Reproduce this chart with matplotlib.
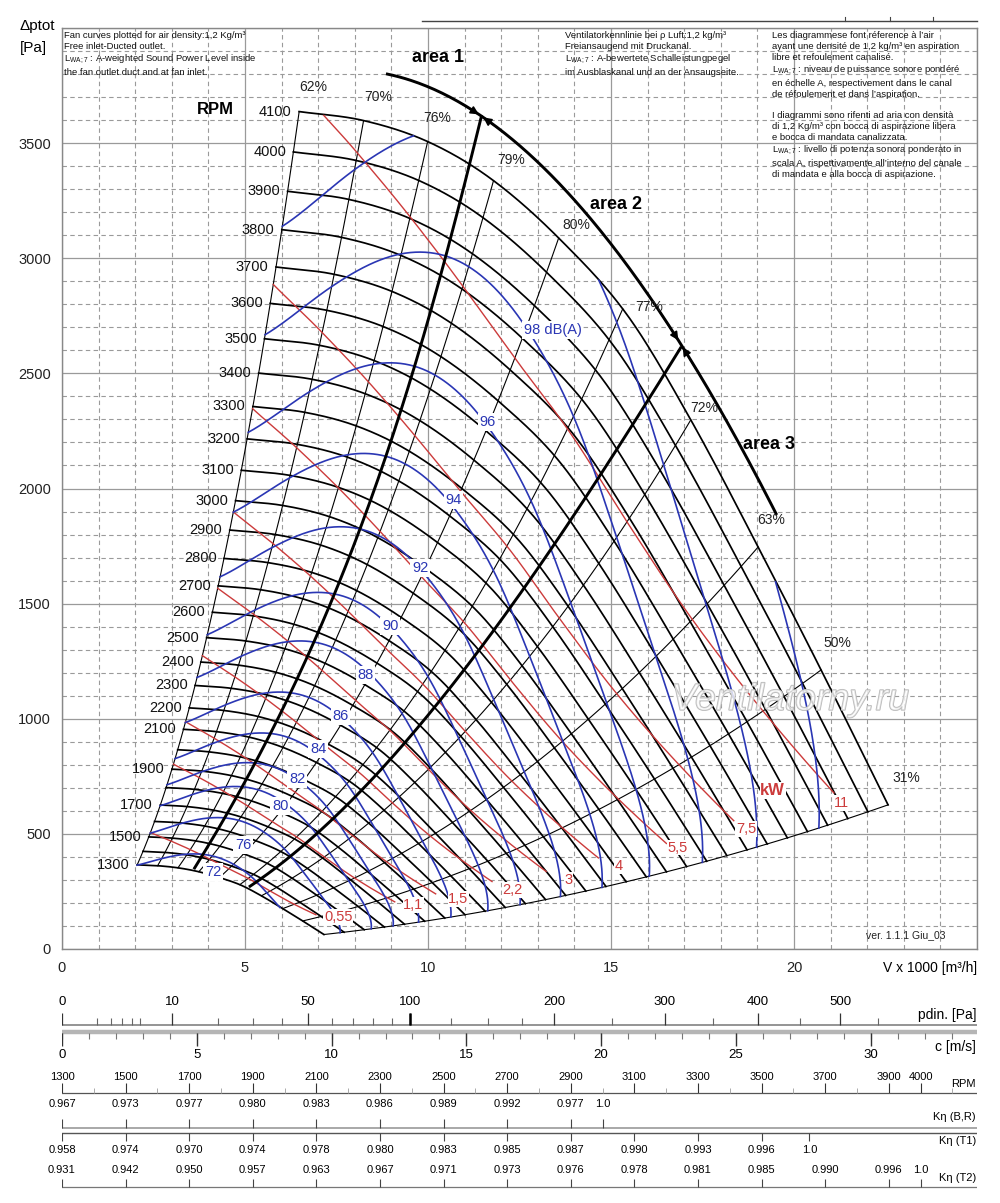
import numpy as np
import matplotlib
matplotlib.use('Agg')
import matplotlib.pyplot as plt
import matplotlib.patheffects as pe
import matplotlib.transforms as mtransforms
from matplotlib.lines import Line2D

plt.rcParams['font.family'] = ['Liberation Sans', 'DejaVu Sans']
plt.rcParams['mathtext.fontset'] = 'custom'
plt.rcParams['mathtext.rm'] = 'Liberation Sans'

NARROW = ['Liberation Sans Narrow', 'Liberation Sans', 'DejaVu Sans']

# ── fan curve at top speed (4100 rpm) ───────────────────────────────────────
base_V = [6.48, 8.24, 10.07, 11.25, 13.62, 15.54, 17.18, 19.02, 20.74, 22.57]
base_p = [3637, 3598, 3501, 3397, 3080, 2732, 2298, 1746, 1212, 626]

rpm_curves = [1300, 1400, 1500, 1600, 1700, 1800, 1900, 2000, 2100, 2200,
              2300, 2400, 2500, 2600, 2700, 2800, 2900, 3000, 3100, 3200,
              3300, 3400, 3500, 3600, 3700, 3800, 3900, 4000, 4100]
rpm_labelled = [1300, 1500, 1700, 1900, 2100, 2200, 2300, 2400, 2500, 2600,
                2700, 2800, 2900, 3000, 3100, 3200, 3300, 3400, 3500, 3600,
                3700, 3800, 3900, 4000, 4100]

# ── efficiency lines: where each one meets the 4100 rpm curve ───────────────
eff_labels = ['62%', '70%', '76%', '79%', '80%', '77%', '72%', '63%', '50%', '31%']
eff_V_top = [6.48, 8.24, 9.99, 11.79, 13.57, 15.32, 17.18, 19.02, 20.74, 22.57]
eff_label_x = [6.87, 8.65, 10.26, 12.26, 14.04, 16.03, 17.54, 19.37, 21.18, 23.06]
eff_label_y = [3745, 3701, 3610, 3427, 3145, 2789, 2350, 1864, 1329, 743]

# ── sound power lines (blue) ────────────────────────────────────────────────
# shape of the 98 dB(A) line: speed ratio n/4100 along the top-speed curve
sound_ref_V = [6.48, 7.45, 9.0, 10.6, 11.8, 12.7, 13.4, 14.0, 15.0, 17.5, 19.8, 22.57]
sound_ref_s = [0.857, 0.874, 0.912, 0.935, 0.941, 0.941, 0.937, 0.930, 0.915, 0.878, 0.840, 0.775]
sound_levels = [72, 76, 80, 82, 84, 86, 88, 90, 92, 94, 96, 98, 100, 102, 104]
# flow where each line meets the 62 % boundary (102/104 extrapolated from their ends)
sound_left_V = [2.05, 2.41, 2.68, 2.87, 3.09, 3.37, 3.69, 3.97, 4.32, 4.68, 5.09, 5.55, 6.02, 6.56, 7.17]
sound_labels = ['72', '76', '80', '82', '84', '86', '88', '90', '92', '94', '96', '98 dB(A)']
sound_label_x = [4.13, 4.95, 5.96, 6.43, 7.00, 7.61, 8.29, 8.97, 9.79, 10.70, 11.63, 13.41]
sound_label_y = [334, 452, 621, 738, 869, 1012, 1190, 1403, 1655, 1950, 2289, 2689]

# ── shaft power lines (red) ─────────────────────────────────────────────────
power_ref_V = [6.48, 7.14, 10.07, 13.55, 14.4, 16.5, 18.8, 22.1]
power_ref_kW = [10.64, 11.0, 12.7, 14.55, 14.9, 15.1, 14.85, 12.9]
kw_values = [0.55, 1.1, 1.5, 2.2, 3, 4, 5.5, 7.5, 11]
kw_labels = ['0,55', '1,1', '1,5', '2,2', '3', '4', '5,5', '7,5', '11']
kw_end_V_top = [20.5, 21.1, 21.3, 21.5, 21.7, 21.8, 22.0, 22.05, 22.19]
kw_label_x = [7.55, 9.60, 10.83, 12.31, 13.84, 15.21, 16.82, 18.69, 21.29]
kw_label_y = [139, 191, 217, 256, 300, 360, 440, 521, 634]

# ── area borders (heavy lines) ──────────────────────────────────────────────
arc_x = [8.89, 11.35, 14.17, 15.81, 16.83, 17.92, 19.51]
arc_y = [3801, 3623, 3241, 2876, 2625, 2385, 1885]
a12_x = [3.58, 4.24, 4.95, 5.61, 6.16, 6.70, 7.41, 7.88, 9.30, 10.34, 10.94, 11.45]
a12_y = [352, 504, 704, 908, 1082, 1299, 1490, 1746, 2350, 2919, 3284, 3615]
a23_x = [5.14, 5.96, 6.87, 7.80, 8.78, 9.79, 10.70, 11.52, 12.50, 13.60, 14.80, 16.00, 16.90]
a23_y = [256, 373, 504, 647, 791, 965, 1112, 1320, 1560, 1807, 2081, 2385, 2602]

# ── bottom scales ───────────────────────────────────────────────────────────
pdin_major = [0, 10, 50, 100, 200, 300, 400, 500]
pdin_minor = [1, 2, 3, 4, 5, 20, 30, 40, 60, 70, 80, 90, 125, 150, 175, 250, 350, 450, 550]
c_major = [0, 5, 10, 15, 20, 25, 30]
rpm_scale = [1300, 1500, 1700, 1900, 2100, 2300, 2500, 2700, 2900, 3100,
             3300, 3500, 3700, 3900, 4000]
kbr_rpm = [1300, 1500, 1700, 1900, 2100, 2300, 2500, 2700, 2900, 3000]
kbr_val = ['0.967', '0.973', '0.977', '0.980', '0.983', '0.986', '0.989', '0.992', '0.977', '1.0']
kt1_rpm = [1300, 1500, 1700, 1900, 2100, 2300, 2500, 2700, 2900, 3100, 3300, 3500, 3650]
kt1_val = ['0.958', '0.974', '0.970', '0.974', '0.978', '0.980', '0.983', '0.985',
           '0.987', '0.990', '0.993', '0.996', '1.0']
kt2_rpm = [1300, 1500, 1700, 1900, 2100, 2300, 2500, 2700, 2900, 3100, 3300, 3500,
           3700, 3900, 4000]
kt2_val = ['0.931', '0.942', '0.950', '0.957', '0.963', '0.967', '0.971', '0.973',
           '0.976', '0.978', '0.981', '0.985', '0.990', '0.996', '1.0']

BLUE = '#2a36b4'
RED = '#cc3b3b'
GRID = '#9a9a9a'
H = 1203.0


def fy(py):
    return 1 - py / H


def smooth(xp, yp, xq):
    """Cubic Hermite curve through the read points."""
    xp = np.asarray(xp, float)
    yp = np.asarray(yp, float)
    h = np.diff(xp)
    d = np.diff(yp) / h
    m = np.empty_like(yp)
    m[1:-1] = (d[:-1] * h[1:] + d[1:] * h[:-1]) / (h[:-1] + h[1:])
    m[0], m[-1] = d[0], d[-1]
    i = np.clip(np.searchsorted(xp, xq) - 1, 0, len(xp) - 2)
    t = (xq - xp[i]) / h[i]
    return ((2 * t**3 - 3 * t**2 + 1) * yp[i] + (t**3 - 2 * t**2 + t) * h[i] * m[i]
            + (-2 * t**3 + 3 * t**2) * yp[i + 1] + (t**3 - t**2) * h[i] * m[i + 1])


fig = plt.figure(figsize=(10, 12.03), dpi=100)
ax = fig.add_axes([0.062, fy(949), 0.915, (949 - 28) / H])
ax.set_xlim(0, 25)
ax.set_ylim(0, 4000)

ax.set_xticks([0, 5, 10, 15, 20, 25])
ax.set_xticklabels(['0', '5', '10', '15', '20', ''])
ax.set_yticks(np.arange(0, 4001, 500))
ax.set_yticklabels([str(v) for v in range(0, 3501, 500)] + [''])
ax.set_xticks(np.arange(0, 26, 1), minor=True)
ax.set_yticks(np.arange(0, 4001, 100), minor=True)
ax.tick_params(which='both', length=0, labelsize=10.5, colors='#222')
ax.tick_params(axis='x', pad=9)
ax.tick_params(axis='y', pad=8)
ax.grid(which='major', color=GRID, lw=0.9, ls='-', zorder=0)
ax.grid(which='minor', color=GRID, lw=0.8, ls=(0, (4, 3)), zorder=0)
ax.set_axisbelow(True)
for sp in ax.spines.values():
    sp.set_color('#888')
    sp.set_linewidth(1.0)

# ── fan-law grid ────────────────────────────────────────────────────────────
Vg = np.linspace(base_V[0], base_V[-1], 500)
pg = smooth(base_V, base_p, Vg)
s_min = rpm_curves[0] / rpm_curves[-1]

for n in rpm_curves:
    s = n / rpm_curves[-1]
    ax.plot(Vg * s, pg * s ** 2, color='black', lw=1.25, zorder=3)

sr = np.linspace(s_min, 1, 100)
for ve in eff_V_top:
    pe_ = smooth(base_V, base_p, np.array([ve]))[0]
    ax.plot(ve * sr, pe_ * sr ** 2, color='black', lw=0.8, zorder=3)

for lab, x, y in zip(eff_labels, eff_label_x, eff_label_y):
    ax.text(x, y, lab, fontsize=10, ha='center', va='center', color='#222', zorder=6)

for n in rpm_labelled:
    s = n / rpm_curves[-1]
    ax.text(base_V[0] * s - 0.2, base_p[0] * s ** 2, str(n), fontsize=10.5,
            ha='right', va='center', color='#111', zorder=6)
ax.text(4.19, 3645, 'RPM', fontsize=12, fontweight='bold', ha='center', va='center')

# ── red kW lines ────────────────────────────────────────────────────────────
pcoef = np.polyfit(power_ref_V, power_ref_kW, 3)
Pg = np.polyval(pcoef, Vg)
for kw, vend in zip(kw_values, kw_end_V_top):
    s = (kw / Pg) ** (1 / 3)
    ok = (s <= 1) & (s >= s_min) & (Vg <= vend)
    ax.plot(np.where(ok, Vg * s, np.nan), np.where(ok, pg * s ** 2, np.nan),
            color=RED, lw=1.0, zorder=4)
for lab, x, y in zip(kw_labels, kw_label_x, kw_label_y):
    ax.text(x, y, lab, fontsize=10.5, color=RED, ha='center', va='center', zorder=6,
            bbox=dict(boxstyle='square,pad=0.05', fc='white', ec='none'))
ax.text(19.42, 687, 'kW', fontsize=12, fontweight='bold', color=RED,
        ha='center', va='center', zorder=6,
        bbox=dict(boxstyle='square,pad=0.05', fc='white', ec='none'))

# ── blue dB(A) lines ────────────────────────────────────────────────────────
scoef = np.polyfit(sound_ref_V, sound_ref_s, 5)
Sg = np.polyval(scoef, Vg)
s_left = base_V[0] * Sg[0]
for lv, vl in zip(sound_levels, sound_left_V):
    s = (vl / s_left) * Sg
    ok = (s <= 1) & (s >= s_min - 1e-3)
    ax.plot(np.where(ok, Vg * s, np.nan), np.where(ok, pg * s ** 2, np.nan),
            color=BLUE, lw=1.2, zorder=4)
for lab, x, y in zip(sound_labels, sound_label_x, sound_label_y):
    ax.text(x, y, lab, fontsize=10.5, color=BLUE, ha='center', va='center', zorder=6,
            bbox=dict(boxstyle='square,pad=0.12', fc='white', ec='none'))

# ── area borders ────────────────────────────────────────────────────────────
acoef = np.polyfit(arc_x, arc_y, 3)
xa = np.linspace(arc_x[0], arc_x[-1], 200)
ax.plot(xa, np.polyval(acoef, xa), color='black', lw=2.1, zorder=5)

c12 = np.polyfit(a12_y, a12_x, 3)
ya = np.linspace(a12_y[0], a12_y[-1], 200)
ax.plot(np.polyval(c12, ya), ya, color='black', lw=2.1, zorder=5)

c23 = np.polyfit(a23_x, a23_y, 3)
xb = np.linspace(a23_x[0], a23_x[-1], 200)
ax.plot(xb, np.polyval(c23, xb), color='black', lw=2.1, zorder=5)

for xj in (a12_x[-1], a23_x[-1]):
    for side in (-1, 1):
        x0 = xj + side * 0.55
        x1 = xj + side * 0.06
        ax.annotate('', xy=(x1, np.polyval(acoef, x1)), xytext=(x0, np.polyval(acoef, x0)),
                    arrowprops=dict(arrowstyle='-|>', color='black', lw=1.2,
                                    mutation_scale=12, shrinkA=0, shrinkB=0), zorder=6)

ax.text(10.26, 3870, 'area 1', fontsize=13, fontweight='bold', ha='center', va='center')
ax.text(15.13, 3232, 'area 2', fontsize=13, fontweight='bold', ha='center', va='center')
ax.text(19.32, 2189, 'area 3', fontsize=13, fontweight='bold', ha='center', va='center')

ax.text(19.9, 1082, 'Ventilatorny.ru', fontsize=27, style='italic', ha='center',
        va='center', color=(1, 1, 1, 0.55), zorder=7,
        path_effects=[pe.Stroke(linewidth=1.1, foreground='#b8b8b8'), pe.Normal()])
ax.text(23.06, 61, 'ver. 1.1.1 Giu_03', fontsize=7.5, ha='center', va='center', color='#222')

# ── axis titles ─────────────────────────────────────────────────────────────
fig.text(0.020, fy(26), 'Δptot', fontsize=11, ha='left', va='center')
fig.text(0.020, fy(48), '[Pa]', fontsize=11, ha='left', va='center')
fig.text(0.977, fy(968), 'V x 1000 [m³/h]', fontsize=10, ha='right', va='center')

# ── explanatory texts ───────────────────────────────────────────────────────
lw_sym = r'L$_{\mathregular{WA;7}}$'
txt_en = ('Fan curves plotted for air density:1,2 Kg/m³\n'
          'Free inlet-Ducted outlet.\n'
          + lw_sym + ' : A-weighted Sound Power Level inside\n'
          'the fan outlet duct and at fan inlet.')
txt_de = ('Ventilatorkennlinie bei ρ Luft:1,2 kg/m³\n'
          'Freiansaugend mit Druckanal.\n'
          + lw_sym + ' : A-bewertete Schalleistungpegel\n'
          'im Ausblaskanal und an der Ansaugseite.')
txt_fr = ('Les diagrammese font réference à l’air\n'
          'ayant une densité de 1,2 kg/m³ en aspiration\n'
          'libre et refoulement canalisé.\n'
          + lw_sym + ' : niveau de puissance sonore pondéré\n'
          'en échelle A, respectivement dans le canal\n'
          'de réfoulement et dans l’aspiration.\n'
          '\n'
          'I diagrammi sono rifenti ad aria con densità\n'
          'di 1,2 Kg/m³ con bocca di aspirazione libera\n'
          'e bocca di mandata canalizzata.\n'
          + lw_sym + ' : livello di potenza sonora ponderato in\n'
          'scala A, rispettivamente all’interno del canale\n'
          'di mandata e alla bocca di aspirazione.')
for x, t in ((0.064, txt_en), (0.565, txt_de), (0.772, txt_fr)):
    fig.text(x, fy(31), t, fontsize=6.8, ha='left', va='top', linespacing=1.26,
             color='#111')

fig.add_artist(Line2D([0.422, 0.977], [fy(21), fy(21)], color='#444', lw=1.0))
for px in (845, 890, 933):
    fig.add_artist(Line2D([px / 1000, px / 1000], [fy(21), fy(17)], color='#444', lw=0.8))


# ── bottom scales ───────────────────────────────────────────────────────────
def strip(py_top, py_bot, xlim, functions=None):
    a = fig.add_axes([0.062, fy(py_bot), 0.915, (py_bot - py_top) / H])
    if functions is not None:
        a.set_xscale('function', functions=functions)
    a.set_xlim(*xlim)
    a.set_ylim(py_bot, py_top)
    a.axis('off')
    return a


def right_label(a, py, text, size):
    tr = mtransforms.blended_transform_factory(fig.transFigure, a.transData)
    a.text(0.976, py, text, transform=tr, ha='right', va='center', fontsize=size,
           family=NARROW, clip_on=False)


# pdin (square-root scale)
ap = strip(985, 1029, (0, 691.4),
           (lambda v: np.sqrt(np.clip(v, 0, None)), lambda v: np.square(v)))
ap.plot([0, 691.4], [1025, 1025], color='#777', lw=1.1)
ap.vlines(pdin_minor, 1018, 1025, color='#666', lw=0.8)
ap.vlines(pdin_major, 1013, 1025, color='#333', lw=0.9)
ap.vlines([100], 1013, 1025, color='black', lw=1.8)
for v in pdin_major:
    ap.text(v, 1002, str(v), ha='center', va='center', fontsize=9.5, family=NARROW)
right_label(ap, 1015, 'pdin. [Pa]', 10)

# velocity
ac = strip(1029, 1062, (0, 33.94))
ac.plot([0, 33.94], [1031.5, 1031.5], color='#b5b5b5', lw=3.2, solid_capstyle='butt')
ac.vlines(np.arange(0, 34, 1), 1033, 1039, color='#777', lw=0.8)
ac.vlines(c_major, 1033, 1046, color='#333', lw=1.0)
for v in c_major:
    ac.text(v, 1055, str(v), ha='center', va='center', fontsize=9.5, family=NARROW)
right_label(ac, 1047, 'c [m/s]', 10)

# rpm and efficiency corrections
ar = strip(1062, 1200, (1300, 4177.4))
ar.plot([1300, 4177.4], [1093, 1093], color='#555', lw=0.9)
ar.vlines(rpm_curves, 1088, 1093, color='#aaa', lw=0.7)
ar.vlines(rpm_scale, 1083, 1093, color='#333', lw=0.8)
for v in rpm_scale:
    ar.text(v, 1077, str(v), ha='center', va='center', fontsize=8, family=NARROW)
right_label(ar, 1084, 'RPM', 8)

ar.plot([1300, 4177.4], [1128, 1128], color='#999', lw=1.2)
ar.vlines(kbr_rpm, 1119, 1128, color='#444', lw=0.8)
for v, t in zip(kbr_rpm, kbr_val):
    ar.text(v, 1104, t, ha='center', va='center', fontsize=8, family=NARROW)
right_label(ar, 1117, 'Kη (B,R)', 8)

ar.plot([1300, 4177.4], [1133, 1133], color='#555', lw=1.0)
ar.vlines(kt1_rpm, 1133, 1141, color='#444', lw=0.8)
for v, t in zip(kt1_rpm, kt1_val):
    ar.text(v, 1150, t, ha='center', va='center', fontsize=8, family=NARROW)
right_label(ar, 1141, 'Kη (T1)', 8)

ar.plot([1300, 4177.4], [1187, 1187], color='#777', lw=0.9)
ar.vlines(kt2_rpm, 1179, 1187, color='#444', lw=0.8)
for v, t in zip(kt2_rpm, kt2_val):
    ar.text(v, 1170, t, ha='center', va='center', fontsize=8, family=NARROW)
right_label(ar, 1178, 'Kη (T2)', 8)

fig.savefig('out.png', dpi=100)
print('saved out.png')
